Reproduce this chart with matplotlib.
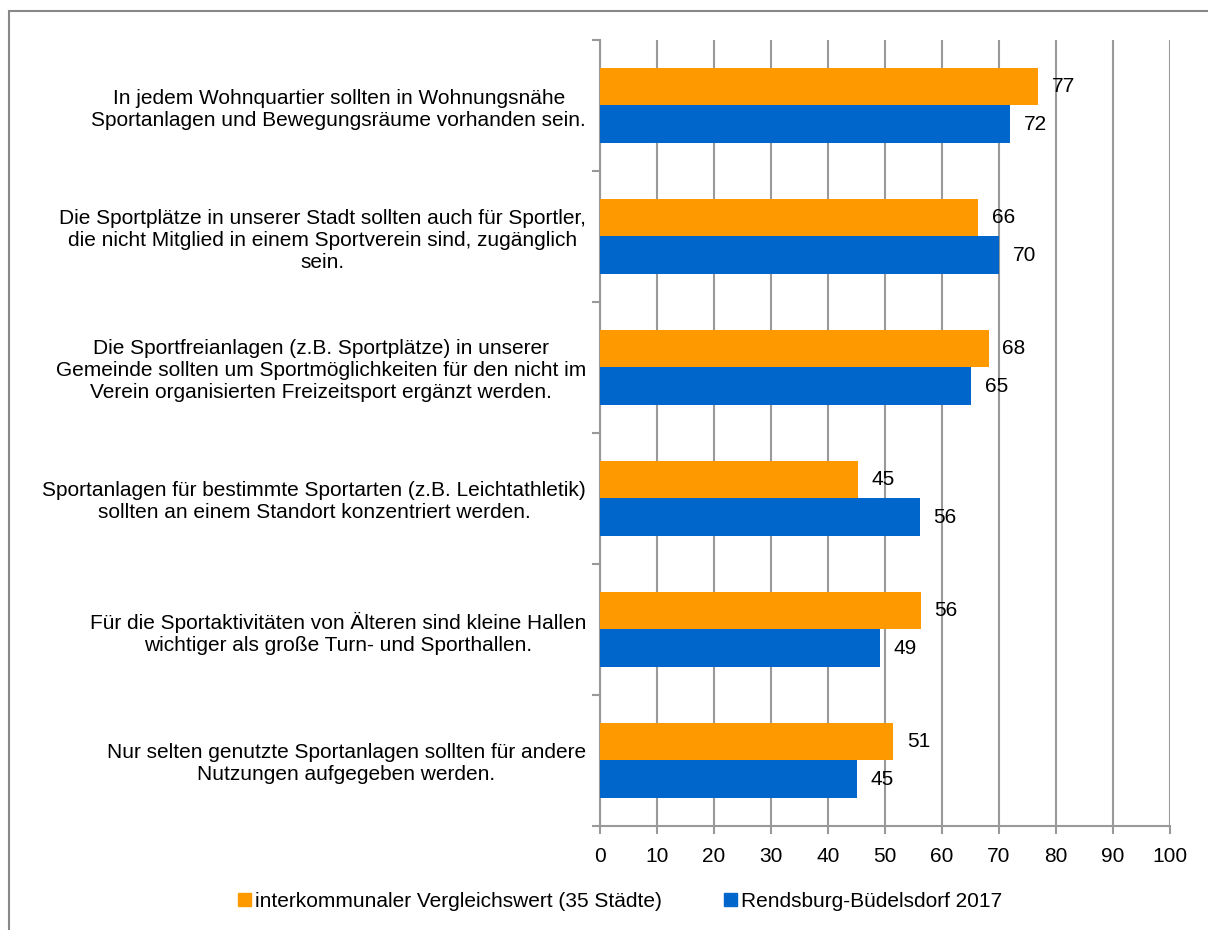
import numpy as np
import matplotlib
matplotlib.use("Agg")
import matplotlib.pyplot as plt
from matplotlib.patches import Rectangle

plt.rcParams['font.family'] = ['Liberation Sans', 'DejaVu Sans']

categories = [
    "In jedem Wohnquartier sollten in Wohnungsnähe\nSportanlagen und Bewegungsräume vorhanden sein.",
    "Die Sportplätze in unserer Stadt sollten auch für Sportler,\ndie nicht Mitglied in einem Sportverein sind, zugänglich\nsein.",
    "Die Sportfreianlagen (z.B. Sportplätze) in unserer\nGemeinde sollten um Sportmöglichkeiten für den nicht im\nVerein organisierten Freizeitsport ergänzt werden.",
    "Sportanlagen für bestimmte Sportarten (z.B. Leichtathletik)\nsollten an einem Standort konzentriert werden.",
    "Für die Sportaktivitäten von Älteren sind kleine Hallen\nwichtiger als große Turn- und Sporthallen.",
    "Nur selten genutzte Sportanlagen sollten für andere\nNutzungen aufgegeben werden.",
]
vergleich = [76.8, 66.4, 68.2, 45.3, 56.3, 51.4]
rendsburg = [72.0, 70.0, 65.1, 56.1, 49.1, 45.1]
series_names = ["interkommunaler Vergleichswert (35 Städte)", "Rendsburg-Büdelsdorf 2017"]

c_orange = "#FF9900"
c_blue = "#0066CC"
grid_c = "#999999"
fs = 15

fig = plt.figure(figsize=(12.08, 9.3), dpi=100)
ax = fig.add_axes([600/1208, 1 - 826/930, 570/1208, 786/930])

y = np.arange(len(categories))
h = 0.285
ax.barh(y - h/2, vergleich, height=h, color=c_orange, zorder=3)
ax.barh(y + h/2, rendsburg, height=h, color=c_blue, zorder=3)

for yi, v in zip(y, vergleich):
    ax.text(v + 2.4, yi - h/2, f"{v:.0f}", va="center", ha="left", fontsize=fs, zorder=4)
for yi, v in zip(y, rendsburg):
    ax.text(v + 2.4, yi + h/2, f"{v:.0f}", va="center", ha="left", fontsize=fs, zorder=4)

ax.set_xlim(0, 100)
ax.set_ylim(len(categories) - 0.5, -0.5)
ax.set_xticks(np.arange(0, 101, 10))
ax.tick_params(axis="x", labelsize=fs, length=6, color=grid_c, width=1.5, pad=9)

ax.set_yticks(y)
ax.set_yticklabels(categories, fontsize=fs, multialignment="center")
ax.tick_params(axis="y", which="major", length=0, pad=10)
ax.set_yticks(np.arange(-0.5, len(categories), 1), minor=True)
ax.tick_params(axis="y", which="minor", length=6, color=grid_c, width=1.5)

ax.grid(axis="x", color=grid_c, linewidth=1.5, zorder=0)
for s in ["top", "right"]:
    ax.spines[s].set_visible(False)
for s in ["left", "bottom"]:
    ax.spines[s].set_color(grid_c)
    ax.spines[s].set_linewidth(1.5)

handles = [Rectangle((0, 0), 1, 1, color=c_orange), Rectangle((0, 0), 1, 1, color=c_blue)]
fig.legend(handles, series_names, loc="center", bbox_to_anchor=(620/1208, 1 - 901/930),
           ncol=2, frameon=False, fontsize=fs, handlelength=0.6, handleheight=0.6,
           handletextpad=0.2, columnspacing=3.0)

fig.patches.append(Rectangle((9/1208, -0.1), 1.2, 1 - 11/930 + 0.1, transform=fig.transFigure,
                             fill=False, edgecolor="#888888", linewidth=1.5))

fig.savefig("out.png", dpi=100)
